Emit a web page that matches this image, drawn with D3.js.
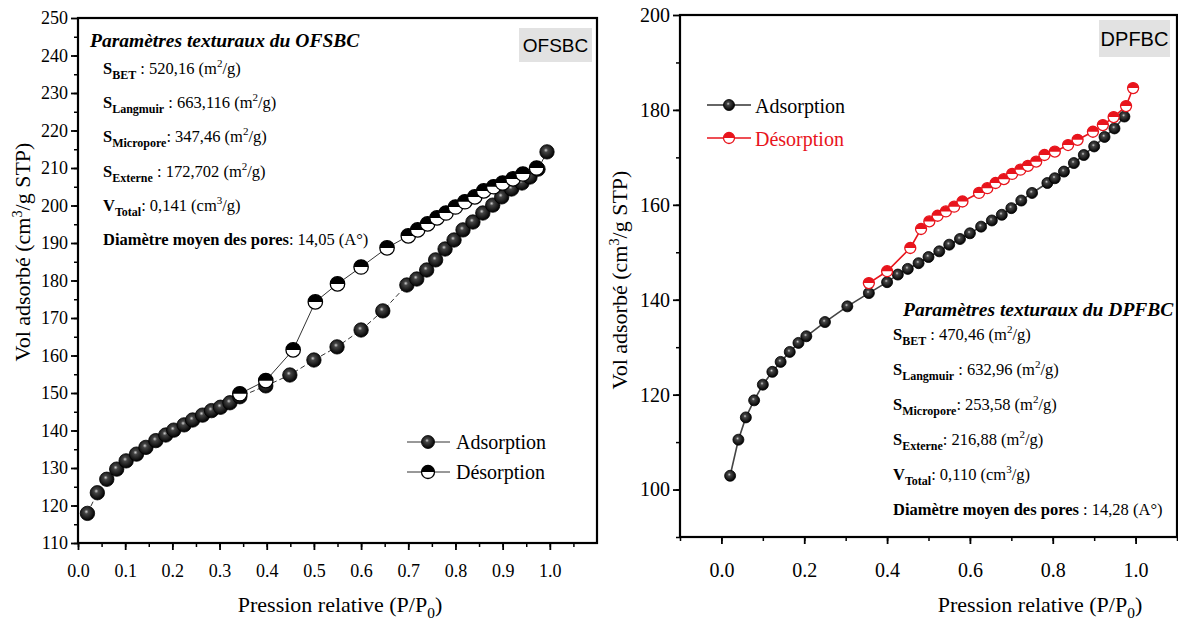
<!DOCTYPE html>
<html lang="fr">
<head>
<meta charset="UTF-8">
<title>Isothermes OFSBC / DPFBC</title>
<script src="https://d3js.org/d3.v7.min.js"></script>
<style>
  body { margin: 0; background: #fff; }
  svg { display: block; }
  text { font-family: "Liberation Serif", "Times New Roman", serif; fill: #000; }
</style>
</head>
<body>
<svg id="chart" width="1178" height="623"></svg>
<script>
// ---- OFSBC (left panel) ----
var ofsAdsX = [0.02, 0.041, 0.061, 0.082, 0.102, 0.124, 0.144, 0.165, 0.186, 0.203, 0.225, 0.243, 0.264, 0.283, 0.302, 0.322, 0.343,
               0.398, 0.449, 0.50, 0.549, 0.60, 0.646, 0.697, 0.718, 0.739, 0.758, 0.778, 0.797, 0.816, 0.837, 0.858, 0.879, 0.898,
               0.919, 0.941, 0.958, 0.975, 0.994];
var ofsAdsY = [117.9, 123.4, 127.0, 129.7, 131.9, 133.7, 135.5, 137.3, 138.8, 140.1, 141.5, 142.8, 144.1, 145.3, 146.2, 147.4, 149.0,
               151.9, 154.8, 158.8, 162.3, 166.8, 171.9, 178.8, 180.4, 182.8, 185.5, 188.4, 190.8, 193.5, 195.6, 198.0, 200.1, 202.3,
               204.4, 206.0, 207.6, 209.7, 214.3];
var ofsDesX = [0.343, 0.398, 0.456, 0.503, 0.55, 0.60, 0.655, 0.70, 0.72, 0.741, 0.761, 0.78, 0.80, 0.82, 0.841, 0.86, 0.881, 0.90,
               0.922, 0.943, 0.972];
var ofsDesY = [149.8, 153.3, 161.5, 174.3, 179.1, 183.6, 188.7, 191.9, 193.5, 195.1, 196.7, 198.0, 199.6, 201.0, 202.3, 203.9, 205.0,
               206.0, 207.1, 208.4, 210.0];
var ofsXTicks = [0, 0.1, 0.2, 0.3, 0.4, 0.5, 0.6, 0.7, 0.8, 0.9, 1.0];
var ofsYTicks = [110, 120, 130, 140, 150, 160, 170, 180, 190, 200, 210, 220, 230, 240, 250];

// ---- DPFBC (right panel) ----
var dpfAdsX = [0.021, 0.041, 0.059, 0.079, 0.10, 0.123, 0.143, 0.165, 0.186, 0.205, 0.25, 0.304, 0.356, 0.40, 0.426, 0.45, 0.476,
               0.50, 0.526, 0.55, 0.576, 0.60, 0.627, 0.653, 0.677, 0.70, 0.724, 0.75, 0.787, 0.805, 0.827, 0.851, 0.875, 0.90,
               0.925, 0.949, 0.973];
var dpfAdsY = [102.9, 110.5, 115.2, 118.8, 122.1, 124.8, 126.9, 129.0, 130.9, 132.3, 135.3, 138.6, 141.4, 143.7, 145.3, 146.5, 147.7,
               149.0, 150.2, 151.6, 152.8, 154.0, 155.4, 156.7, 157.9, 159.3, 160.9, 162.5, 164.6, 165.6, 167.0, 168.8, 170.5, 172.3,
               174.3, 176.1, 178.6];
var dpfDesX = [0.356, 0.40, 0.456, 0.482, 0.502, 0.522, 0.542, 0.562, 0.582, 0.622, 0.642, 0.662, 0.682, 0.702, 0.722, 0.74, 0.76,
               0.78, 0.805, 0.837, 0.86, 0.897, 0.921, 0.947, 0.977, 0.994];
var dpfDesY = [143.5, 146.0, 150.9, 154.9, 156.5, 157.7, 158.6, 159.6, 160.7, 162.5, 163.5, 164.6, 165.4, 166.5, 167.4, 168.2, 169.1,
               170.5, 171.2, 172.6, 173.7, 175.4, 176.8, 178.5, 180.8, 184.6];
var dpfXTicks = [0, 0.2, 0.4, 0.6, 0.8, 1.0];
var dpfYTicks = [100, 120, 140, 160, 180, 200];

// texture parameters: [symbol, subscript, value, unit power]
var ofsParams = [["S", "BET", " : 520,16 (m", "2"], ["S", "Langmuir", " : 663,116 (m", "2"], ["S", "Micropore", ": 347,46 (m", "2"],
                 ["S", "Externe", " : 172,702 (m", "2"], ["V", "Total", ": 0,141 (cm", "3"]];
var dpfParams = [["S", "BET", " : 470,46 (m", "2"], ["S", "Langmuir", " : 632,96 (m", "2"], ["S", "Micropore", ": 253,58 (m", "2"],
                 ["S", "Externe", ": 216,88 (m", "2"], ["V", "Total", ": 0,110 (cm", "3"]];

var svg = d3.select("#chart");
var defs = svg.append("defs");

// shaded ball marker
var grad = defs.append("radialGradient").attr("id", "ball")
    .attr("cx", "45%").attr("cy", "42%").attr("r", "58%").attr("fx", "42%").attr("fy", "38%");
grad.append("stop").attr("offset", "0%").attr("stop-color", "#cfcfcf");
grad.append("stop").attr("offset", "25%").attr("stop-color", "#444");
grad.append("stop").attr("offset", "100%").attr("stop-color", "#000");

function ball(g, x, y, r) {
  g.append("circle").attr("cx", x).attr("cy", y).attr("r", r)
    .attr("fill", "url(#ball)").attr("stroke", "#000").attr("stroke-width", 0.8);
}
function halfBall(g, x, y, r, col) {
  g.append("circle").attr("cx", x).attr("cy", y).attr("r", r)
    .attr("fill", "#fff").attr("stroke", col).attr("stroke-width", 1.3);
  g.append("path")
    .attr("d", "M" + (x - r) + "," + y + " A" + r + "," + r + " 0 0 1 " + (x + r) + "," + y + " Z")
    .attr("fill", col);
}

function fmt(d) { return d3.format(".1f")(d); }

function drawFrame(g, x, y, xTicks, xMinor, yTicks, yMinor, fs, xPad) {
  var x0 = x.range()[0], x1 = x.range()[1], y0 = y.range()[0], y1 = y.range()[1];
  g.append("g").attr("transform", "translate(0," + y0 + ")")
    .call(d3.axisBottom(x).tickValues(xMinor).tickSize(4).tickFormat(""))
    .call(function (a) { a.select(".domain").remove(); a.selectAll("line").attr("stroke-width", 1.5); });
  g.append("g").attr("transform", "translate(0," + y0 + ")")
    .call(d3.axisBottom(x).tickValues(xTicks).tickSize(7).tickPadding(xPad).tickFormat(fmt))
    .call(function (a) {
      a.select(".domain").remove();
      a.selectAll("line").attr("stroke-width", 1.8);
      a.selectAll("text").style("font-family", "Liberation Serif").style("font-size", fs + "px");
    });
  g.append("g").attr("transform", "translate(" + x0 + ",0)")
    .call(d3.axisLeft(y).tickValues(yMinor).tickSize(4).tickFormat(""))
    .call(function (a) { a.select(".domain").remove(); a.selectAll("line").attr("stroke-width", 1.5); });
  g.append("g").attr("transform", "translate(" + x0 + ",0)")
    .call(d3.axisLeft(y).tickValues(yTicks).tickSize(7).tickPadding(3))
    .call(function (a) {
      a.select(".domain").remove();
      a.selectAll("line").attr("stroke-width", 1.8);
      a.selectAll("text").style("font-family", "Liberation Serif").style("font-size", fs + "px");
    });
  g.append("rect").attr("x", x0).attr("y", y1).attr("width", x1 - x0).attr("height", y0 - y1)
    .attr("fill", "none").attr("stroke", "#000").attr("stroke-width", 2.2);
}

function axisTitles(g, cx, cyY, xTitleX, xTitleY, fs) {
  var t = g.append("text").attr("text-anchor", "middle")
    .attr("transform", "translate(" + cx + "," + cyY + ") rotate(-90)").style("font-size", fs + "px");
  t.append("tspan").text("Vol adsorbé (cm");
  t.append("tspan").text("3").attr("dy", -8).style("font-size", (fs * 0.65) + "px");
  t.append("tspan").text("/g STP)").attr("dy", 8);
  var u = g.append("text").attr("text-anchor", "middle").attr("x", xTitleX).attr("y", xTitleY).style("font-size", fs + "px");
  u.append("tspan").text("Pression relative (P/P");
  u.append("tspan").text("0").attr("dy", 6).style("font-size", (fs * 0.7) + "px");
  u.append("tspan").text(")").attr("dy", -6);
}

function paramBlock(g, title, tx, ty, params, diam, px, py, step) {
  g.append("text").attr("x", tx).attr("y", ty).text(title)
    .style("font-size", "19.5px").style("font-weight", "bold").style("font-style", "italic");
  params.forEach(function (p, i) {
    var t = g.append("text").attr("x", px).attr("y", py + i * step).style("font-size", "16.5px");
    t.append("tspan").text(p[0]).style("font-weight", "bold");
    t.append("tspan").text(p[1]).attr("dy", 5).style("font-weight", "bold").style("font-size", "12px");
    t.append("tspan").text(p[2]).attr("dy", -5);
    t.append("tspan").text(p[3]).attr("dy", -7).style("font-size", "11px");
    t.append("tspan").text("/g)").attr("dy", 7);
  });
  var d = g.append("text").attr("x", px).attr("y", py + params.length * step).style("font-size", "16.5px");
  d.append("tspan").text("Diamètre moyen des pores").style("font-weight", "bold");
  d.append("tspan").text(diam);
}

function labelBox(g, x, y, w, h, txt, fs) {
  g.append("rect").attr("x", x).attr("y", y).attr("width", w).attr("height", h).attr("fill", "#e2e2e2");
  g.append("text").attr("x", x + w / 2).attr("y", y + h / 2 + fs * 0.36).attr("text-anchor", "middle")
    .text(txt).style("font-family", "Liberation Sans, Arial, sans-serif").style("font-size", fs + "px");
}

// ================= left panel =================
var L = svg.append("g");
var xL = d3.scaleLinear().domain([0, 1.1]).range([78, 597]);
var yL = d3.scaleLinear().domain([110, 250]).range([543, 18]);
drawFrame(L, xL, yL, ofsXTicks, d3.range(0, 1.1, 0.05), ofsYTicks, d3.range(110, 250, 5), 18, 14);
axisTitles(L, 30, 252, 340, 612, 22);

var lineL = d3.line().x(function (d) { return xL(d[0]); }).y(function (d) { return yL(d[1]); });
var adsL = d3.zip(ofsAdsX, ofsAdsY), desL = d3.zip(ofsDesX, ofsDesY);
L.append("path").attr("d", lineL(adsL)).attr("fill", "none").attr("stroke", "#333")
  .attr("stroke-width", 1).attr("stroke-dasharray", "5,3");
L.append("path").attr("d", lineL(desL)).attr("fill", "none").attr("stroke", "#333").attr("stroke-width", 1);
adsL.forEach(function (d) { ball(L, xL(d[0]), yL(d[1]), 7.2); });
desL.forEach(function (d) { halfBall(L, xL(d[0]), yL(d[1]), 7.2, "#000"); });

paramBlock(L, "Paramètres texturaux du OFSBC", 90, 47, ofsParams, ": 14,05 (A°)", 103, 74, 34.2);
labelBox(L, 519, 28, 73, 34, "OFSBC", 19);

// legend left
[["Adsorption", 442, "ads"], ["Désorption", 472, "des"]].forEach(function (l) {
  L.append("line").attr("x1", 407).attr("x2", 450).attr("y1", l[1]).attr("y2", l[1]).attr("stroke", "#333").attr("stroke-width", 1);
  if (l[2] === "ads") ball(L, 428, l[1], 6.5); else halfBall(L, 428, l[1], 6.5, "#000");
  L.append("text").attr("x", 456).attr("y", l[1] + 7).text(l[0]).style("font-size", "20px");
});

// ================= right panel =================
var R = svg.append("g");
var xR = d3.scaleLinear().domain([-0.1, 1.1]).range([680, 1177]);
var yR = d3.scaleLinear().domain([90, 200]).range([537, 15]);
drawFrame(R, xR, yR, dpfXTicks, d3.range(-0.1, 1.11, 0.1), dpfYTicks, d3.range(90, 200, 10), 20, 19);
axisTitles(R, 627, 280, 1040, 612, 22);

var lineR = d3.line().x(function (d) { return xR(d[0]); }).y(function (d) { return yR(d[1]); });
var adsR = d3.zip(dpfAdsX, dpfAdsY), desR = d3.zip(dpfDesX, dpfDesY);
R.append("path").attr("d", lineR(adsR)).attr("fill", "none").attr("stroke", "#444").attr("stroke-width", 1.6);
R.append("path").attr("d", lineR(desR)).attr("fill", "none").attr("stroke", "#e8141c").attr("stroke-width", 1.6);
adsR.forEach(function (d) { ball(R, xR(d[0]), yR(d[1]), 5.5); });
desR.forEach(function (d) { halfBall(R, xR(d[0]), yR(d[1]), 5.5, "#e8141c"); });

paramBlock(R, "Paramètres texturaux du DPFBC", 903, 316, dpfParams, " : 14,28 (A°)", 893, 340, 35);
labelBox(R, 1099, 20, 71, 37, "DPFBC", 20);

// legend right
[["Adsorption", 105, "#333", "ads"], ["Désorption", 138, "#e8141c", "des"]].forEach(function (l) {
  R.append("line").attr("x1", 707).attr("x2", 751).attr("y1", l[1]).attr("y2", l[1]).attr("stroke", l[2]).attr("stroke-width", 1.6);
  if (l[3] === "ads") ball(R, 729, l[1], 5.5); else halfBall(R, 729, l[1], 5.5, l[2]);
  R.append("text").attr("x", 755).attr("y", l[1] + 8).text(l[0]).style("font-size", "20px")
    .style("fill", l[3] === "ads" ? "#000" : "#e8141c");
});
</script>
</body>
</html>
